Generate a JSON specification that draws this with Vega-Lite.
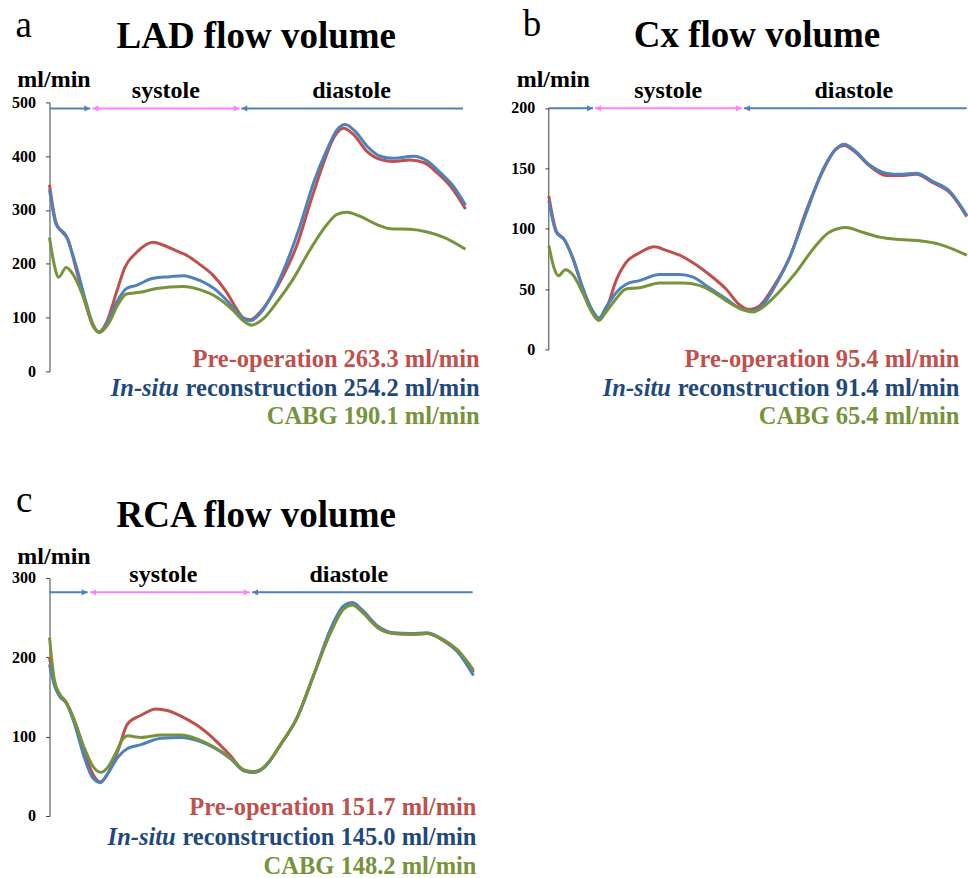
{
  "$schema": "https://vega.github.io/schema/vega-lite/v6.json",
  "background": "white",
  "padding": {"left": 11.5, "top": 5.4, "right": 0, "bottom": 0},
  "columns": 2,
  "bounds": "flush",
  "align": "all",
  "spacing": {"row": 206.6, "column": 75.3},
  "datasets": {
    "lad": [
      {"series":"Pre-operation","t":0,"flow":347},{"series":"Pre-operation","t":1.6,"flow":276},{"series":"Pre-operation","t":3.2,"flow":258},{"series":"Pre-operation","t":4.4,"flow":246},{"series":"Pre-operation","t":6.4,"flow":190},{"series":"Pre-operation","t":8.8,"flow":122},{"series":"Pre-operation","t":10.4,"flow":85},{"series":"Pre-operation","t":11.9,"flow":73},{"series":"Pre-operation","t":13.7,"flow":91},{"series":"Pre-operation","t":16.1,"flow":147},{"series":"Pre-operation","t":18.1,"flow":193},{"series":"Pre-operation","t":20.9,"flow":221},{"series":"Pre-operation","t":24.9,"flow":240},{"series":"Pre-operation","t":27.3,"flow":235},{"series":"Pre-operation","t":30.5,"flow":224},{"series":"Pre-operation","t":32.9,"flow":216},{"series":"Pre-operation","t":36.1,"flow":199},{"series":"Pre-operation","t":39.4,"flow":178},{"series":"Pre-operation","t":42.6,"flow":147},{"series":"Pre-operation","t":45.0,"flow":116},{"series":"Pre-operation","t":46.6,"flow":99},{"series":"Pre-operation","t":48.2,"flow":96},{"series":"Pre-operation","t":50.6,"flow":110},{"series":"Pre-operation","t":53.0,"flow":135},{"series":"Pre-operation","t":56.2,"flow":178},{"series":"Pre-operation","t":59.4,"flow":233},{"series":"Pre-operation","t":62.7,"flow":314},{"series":"Pre-operation","t":65.9,"flow":388},{"series":"Pre-operation","t":68.3,"flow":434},{"series":"Pre-operation","t":70.7,"flow":452},{"series":"Pre-operation","t":73.1,"flow":440},{"series":"Pre-operation","t":76.3,"flow":409},{"series":"Pre-operation","t":79.5,"flow":394},{"series":"Pre-operation","t":82.7,"flow":390},{"series":"Pre-operation","t":86.7,"flow":393},{"series":"Pre-operation","t":90.0,"flow":388},{"series":"Pre-operation","t":93.2,"flow":369},{"series":"Pre-operation","t":96.4,"flow":344},{"series":"Pre-operation","t":100,"flow":302},
      {"series":"In-situ reconstruction","t":0,"flow":338},{"series":"In-situ reconstruction","t":1.6,"flow":273},{"series":"In-situ reconstruction","t":4.0,"flow":252},{"series":"In-situ reconstruction","t":6.4,"flow":196},{"series":"In-situ reconstruction","t":8.8,"flow":128},{"series":"In-situ reconstruction","t":10.4,"flow":88},{"series":"In-situ reconstruction","t":11.9,"flow":73},{"series":"In-situ reconstruction","t":13.7,"flow":88},{"series":"In-situ reconstruction","t":16.1,"flow":128},{"series":"In-situ reconstruction","t":18.5,"flow":154},{"series":"In-situ reconstruction","t":20.9,"flow":160},{"series":"In-situ reconstruction","t":24.9,"flow":173},{"series":"In-situ reconstruction","t":28.9,"flow":176},{"series":"In-situ reconstruction","t":32.1,"flow":178},{"series":"In-situ reconstruction","t":36.1,"flow":169},{"series":"In-situ reconstruction","t":40.2,"flow":150},{"series":"In-situ reconstruction","t":43.4,"flow":125},{"series":"In-situ reconstruction","t":45.8,"flow":104},{"series":"In-situ reconstruction","t":48.2,"flow":94},{"series":"In-situ reconstruction","t":50.6,"flow":107},{"series":"In-situ reconstruction","t":53.8,"flow":147},{"series":"In-situ reconstruction","t":57.0,"flow":202},{"series":"In-situ reconstruction","t":60.2,"flow":270},{"series":"In-situ reconstruction","t":63.5,"flow":351},{"series":"In-situ reconstruction","t":66.7,"flow":412},{"series":"In-situ reconstruction","t":69.1,"flow":449},{"series":"In-situ reconstruction","t":71.1,"flow":459},{"series":"In-situ reconstruction","t":73.5,"flow":446},{"series":"In-situ reconstruction","t":76.3,"flow":419},{"series":"In-situ reconstruction","t":79.5,"flow":400},{"series":"In-situ reconstruction","t":82.7,"flow":396},{"series":"In-situ reconstruction","t":87.6,"flow":400},{"series":"In-situ reconstruction","t":90.8,"flow":391},{"series":"In-situ reconstruction","t":94.0,"flow":369},{"series":"In-situ reconstruction","t":97.2,"flow":343},{"series":"In-situ reconstruction","t":100,"flow":309},
      {"series":"CABG","t":0,"flow":249},{"series":"CABG","t":1.2,"flow":196},{"series":"CABG","t":2.2,"flow":175},{"series":"CABG","t":4.0,"flow":193},{"series":"CABG","t":5.6,"flow":181},{"series":"CABG","t":8.0,"flow":141},{"series":"CABG","t":10.4,"flow":88},{"series":"CABG","t":12.0,"flow":72},{"series":"CABG","t":14.1,"flow":88},{"series":"CABG","t":16.5,"flow":125},{"series":"CABG","t":18.5,"flow":144},{"series":"CABG","t":21.7,"flow":147},{"series":"CABG","t":25.7,"flow":154},{"series":"CABG","t":32.1,"flow":158},{"series":"CABG","t":36.1,"flow":152},{"series":"CABG","t":40.2,"flow":138},{"series":"CABG","t":44.2,"flow":113},{"series":"CABG","t":46.6,"flow":94},{"series":"CABG","t":48.6,"flow":86},{"series":"CABG","t":51.4,"flow":98},{"series":"CABG","t":54.6,"flow":128},{"series":"CABG","t":58.6,"flow":172},{"series":"CABG","t":62.7,"flow":227},{"series":"CABG","t":66.7,"flow":273},{"series":"CABG","t":69.1,"flow":292},{"series":"CABG","t":71.5,"flow":296},{"series":"CABG","t":74.7,"flow":288},{"series":"CABG","t":78.7,"flow":273},{"series":"CABG","t":81.9,"flow":265},{"series":"CABG","t":86.7,"flow":264},{"series":"CABG","t":90.8,"flow":259},{"series":"CABG","t":94.8,"flow":249},{"series":"CABG","t":100,"flow":227}
    ],
    "cx": [
      {"series":"Pre-operation","t":0,"flow":127},{"series":"Pre-operation","t":1.8,"flow":98},{"series":"Pre-operation","t":3.7,"flow":91},{"series":"Pre-operation","t":5.7,"flow":76},{"series":"Pre-operation","t":8.1,"flow":51},{"series":"Pre-operation","t":10.1,"flow":33},{"series":"Pre-operation","t":11.7,"flow":25},{"series":"Pre-operation","t":13.7,"flow":33},{"series":"Pre-operation","t":16.1,"flow":57},{"series":"Pre-operation","t":18.5,"flow":72},{"series":"Pre-operation","t":21.7,"flow":80},{"series":"Pre-operation","t":25.3,"flow":85},{"series":"Pre-operation","t":28.1,"flow":82},{"series":"Pre-operation","t":31.3,"flow":78},{"series":"Pre-operation","t":34.4,"flow":72},{"series":"Pre-operation","t":38.4,"flow":62},{"series":"Pre-operation","t":42.4,"flow":50},{"series":"Pre-operation","t":45.6,"flow":37},{"series":"Pre-operation","t":48.0,"flow":33},{"series":"Pre-operation","t":50.4,"flow":36},{"series":"Pre-operation","t":53.6,"flow":51},{"series":"Pre-operation","t":57.6,"flow":76},{"series":"Pre-operation","t":61.6,"flow":115},{"series":"Pre-operation","t":65.6,"flow":148},{"series":"Pre-operation","t":68.7,"flow":166},{"series":"Pre-operation","t":70.7,"flow":169},{"series":"Pre-operation","t":73.1,"flow":164},{"series":"Pre-operation","t":76.7,"flow":152},{"series":"Pre-operation","t":80.7,"flow":144},{"series":"Pre-operation","t":83.9,"flow":144},{"series":"Pre-operation","t":87.9,"flow":145},{"series":"Pre-operation","t":91.9,"flow":138},{"series":"Pre-operation","t":95.9,"flow":130},{"series":"Pre-operation","t":100,"flow":110},
      {"series":"In-situ reconstruction","t":0,"flow":123},{"series":"In-situ reconstruction","t":1.8,"flow":97},{"series":"In-situ reconstruction","t":3.7,"flow":91},{"series":"In-situ reconstruction","t":5.7,"flow":76},{"series":"In-situ reconstruction","t":8.1,"flow":51},{"series":"In-situ reconstruction","t":10.5,"flow":32},{"series":"In-situ reconstruction","t":12.0,"flow":26},{"series":"In-situ reconstruction","t":13.7,"flow":35},{"series":"In-situ reconstruction","t":16.1,"flow":47},{"series":"In-situ reconstruction","t":18.5,"flow":54},{"series":"In-situ reconstruction","t":21.7,"flow":57},{"series":"In-situ reconstruction","t":26.5,"flow":62},{"series":"In-situ reconstruction","t":31.3,"flow":62},{"series":"In-situ reconstruction","t":34.4,"flow":60},{"series":"In-situ reconstruction","t":38.4,"flow":51},{"series":"In-situ reconstruction","t":42.4,"flow":42},{"series":"In-situ reconstruction","t":46.4,"flow":33},{"series":"In-situ reconstruction","t":48.8,"flow":32},{"series":"In-situ reconstruction","t":51.2,"flow":37},{"series":"In-situ reconstruction","t":54.4,"flow":54},{"series":"In-situ reconstruction","t":57.6,"flow":76},{"series":"In-situ reconstruction","t":61.6,"flow":113},{"series":"In-situ reconstruction","t":65.6,"flow":149},{"series":"In-situ reconstruction","t":68.7,"flow":166},{"series":"In-situ reconstruction","t":70.7,"flow":170},{"series":"In-situ reconstruction","t":73.1,"flow":165},{"series":"In-situ reconstruction","t":76.7,"flow":153},{"series":"In-situ reconstruction","t":80.7,"flow":146},{"series":"In-situ reconstruction","t":83.9,"flow":145},{"series":"In-situ reconstruction","t":87.9,"flow":146},{"series":"In-situ reconstruction","t":91.9,"flow":139},{"series":"In-situ reconstruction","t":95.9,"flow":131},{"series":"In-situ reconstruction","t":100,"flow":111},
      {"series":"CABG","t":0,"flow":86},{"series":"CABG","t":1.4,"flow":66},{"series":"CABG","t":2.3,"flow":61},{"series":"CABG","t":4.0,"flow":66},{"series":"CABG","t":5.7,"flow":62},{"series":"CABG","t":8.1,"flow":47},{"series":"CABG","t":10.1,"flow":32},{"series":"CABG","t":12.0,"flow":24},{"series":"CABG","t":13.7,"flow":31},{"series":"CABG","t":16.1,"flow":42},{"series":"CABG","t":18.5,"flow":50},{"series":"CABG","t":21.7,"flow":51},{"series":"CABG","t":26.5,"flow":55},{"series":"CABG","t":32.1,"flow":55},{"series":"CABG","t":36.0,"flow":53},{"series":"CABG","t":40.0,"flow":46},{"series":"CABG","t":44.0,"flow":37},{"series":"CABG","t":47.2,"flow":32},{"series":"CABG","t":48.8,"flow":31},{"series":"CABG","t":51.2,"flow":35},{"series":"CABG","t":55.2,"flow":48},{"series":"CABG","t":59.2,"flow":64},{"series":"CABG","t":63.2,"flow":83},{"series":"CABG","t":67.1,"flow":97},{"series":"CABG","t":71.1,"flow":101},{"series":"CABG","t":75.1,"flow":97},{"series":"CABG","t":79.1,"flow":93},{"series":"CABG","t":83.9,"flow":91},{"series":"CABG","t":88.7,"flow":90},{"series":"CABG","t":93.5,"flow":87},{"series":"CABG","t":100,"flow":78}
    ],
    "rca": [
      {"series":"Pre-operation","t":0,"flow":200},{"series":"Pre-operation","t":1.2,"flow":166},{"series":"Pre-operation","t":2.4,"flow":151},{"series":"Pre-operation","t":3.9,"flow":143},{"series":"Pre-operation","t":5.9,"flow":120},{"series":"Pre-operation","t":8.2,"flow":82},{"series":"Pre-operation","t":10.2,"flow":53},{"series":"Pre-operation","t":12.0,"flow":43},{"series":"Pre-operation","t":13.7,"flow":53},{"series":"Pre-operation","t":16.1,"flow":82},{"series":"Pre-operation","t":18.4,"flow":116},{"series":"Pre-operation","t":21.6,"flow":127},{"series":"Pre-operation","t":25.1,"flow":135},{"series":"Pre-operation","t":27.8,"flow":133},{"series":"Pre-operation","t":31.0,"flow":126},{"series":"Pre-operation","t":34.9,"flow":114},{"series":"Pre-operation","t":38.8,"flow":97},{"series":"Pre-operation","t":42.7,"flow":76},{"series":"Pre-operation","t":45.9,"flow":57},{"series":"Pre-operation","t":48.2,"flow":55},{"series":"Pre-operation","t":50.6,"flow":61},{"series":"Pre-operation","t":54.5,"flow":90},{"series":"Pre-operation","t":58.4,"flow":124},{"series":"Pre-operation","t":62.4,"flow":179},{"series":"Pre-operation","t":66.3,"flow":233},{"series":"Pre-operation","t":69.4,"flow":263},{"series":"Pre-operation","t":71.4,"flow":268},{"series":"Pre-operation","t":73.7,"flow":259},{"series":"Pre-operation","t":77.3,"flow":238},{"series":"Pre-operation","t":81.2,"flow":230},{"series":"Pre-operation","t":85.1,"flow":229},{"series":"Pre-operation","t":89.0,"flow":230},{"series":"Pre-operation","t":92.9,"flow":221},{"series":"Pre-operation","t":96.1,"flow":208},{"series":"Pre-operation","t":100,"flow":181},
      {"series":"In-situ reconstruction","t":0,"flow":191},{"series":"In-situ reconstruction","t":1.2,"flow":164},{"series":"In-situ reconstruction","t":2.4,"flow":151},{"series":"In-situ reconstruction","t":3.9,"flow":143},{"series":"In-situ reconstruction","t":5.9,"flow":116},{"series":"In-situ reconstruction","t":8.2,"flow":74},{"series":"In-situ reconstruction","t":10.2,"flow":48},{"series":"In-situ reconstruction","t":12.0,"flow":42},{"series":"In-situ reconstruction","t":13.7,"flow":53},{"series":"In-situ reconstruction","t":16.1,"flow":74},{"series":"In-situ reconstruction","t":18.4,"flow":85},{"series":"In-situ reconstruction","t":21.6,"flow":90},{"series":"In-situ reconstruction","t":26.3,"flow":98},{"series":"In-situ reconstruction","t":31.0,"flow":99},{"series":"In-situ reconstruction","t":34.9,"flow":95},{"series":"In-situ reconstruction","t":38.8,"flow":86},{"series":"In-situ reconstruction","t":42.7,"flow":72},{"series":"In-situ reconstruction","t":45.9,"flow":57},{"series":"In-situ reconstruction","t":48.2,"flow":55},{"series":"In-situ reconstruction","t":50.6,"flow":61},{"series":"In-situ reconstruction","t":54.5,"flow":90},{"series":"In-situ reconstruction","t":58.4,"flow":124},{"series":"In-situ reconstruction","t":62.4,"flow":179},{"series":"In-situ reconstruction","t":66.3,"flow":236},{"series":"In-situ reconstruction","t":69.4,"flow":265},{"series":"In-situ reconstruction","t":71.4,"flow":269},{"series":"In-situ reconstruction","t":73.7,"flow":260},{"series":"In-situ reconstruction","t":77.3,"flow":240},{"series":"In-situ reconstruction","t":81.2,"flow":231},{"series":"In-situ reconstruction","t":85.1,"flow":230},{"series":"In-situ reconstruction","t":89.0,"flow":231},{"series":"In-situ reconstruction","t":92.9,"flow":222},{"series":"In-situ reconstruction","t":96.1,"flow":208},{"series":"In-situ reconstruction","t":100,"flow":177},
      {"series":"CABG","t":0,"flow":225},{"series":"CABG","t":1.2,"flow":170},{"series":"CABG","t":2.4,"flow":154},{"series":"CABG","t":3.9,"flow":144},{"series":"CABG","t":5.9,"flow":120},{"series":"CABG","t":8.2,"flow":86},{"series":"CABG","t":10.2,"flow":63},{"series":"CABG","t":12.0,"flow":55},{"series":"CABG","t":13.7,"flow":61},{"series":"CABG","t":15.7,"flow":80},{"series":"CABG","t":17.3,"flow":97},{"series":"CABG","t":18.4,"flow":101},{"series":"CABG","t":21.6,"flow":99},{"series":"CABG","t":26.3,"flow":102},{"series":"CABG","t":31.0,"flow":102},{"series":"CABG","t":34.9,"flow":97},{"series":"CABG","t":38.8,"flow":87},{"series":"CABG","t":42.7,"flow":73},{"series":"CABG","t":45.9,"flow":58},{"series":"CABG","t":48.2,"flow":56},{"series":"CABG","t":50.6,"flow":62},{"series":"CABG","t":54.5,"flow":90},{"series":"CABG","t":58.4,"flow":124},{"series":"CABG","t":62.4,"flow":179},{"series":"CABG","t":66.3,"flow":231},{"series":"CABG","t":69.4,"flow":261},{"series":"CABG","t":71.4,"flow":266},{"series":"CABG","t":73.7,"flow":257},{"series":"CABG","t":77.3,"flow":238},{"series":"CABG","t":81.2,"flow":230},{"series":"CABG","t":85.1,"flow":229},{"series":"CABG","t":89.0,"flow":230},{"series":"CABG","t":92.9,"flow":222},{"series":"CABG","t":96.1,"flow":210},{"series":"CABG","t":100,"flow":184}
    ],
    "lad_phase": [
      {"phase":"end-diastole","t0":0,"t1":9.8},{"phase":"systole","t0":10.3,"t1":45.7},{"phase":"diastole","t0":46.1,"t1":99.4}
    ],
    "lad_head": [
      {"phase":"end-diastole","dir":"right","t":9.03},{"phase":"systole","dir":"left","t":11.07},{"phase":"systole","dir":"right","t":44.93},{"phase":"diastole","dir":"left","t":46.87}
    ],
    "cx_phase": [
      {"phase":"end-diastole","t0":0,"t1":10.6},{"phase":"systole","t0":11.1,"t1":46.2},{"phase":"diastole","t0":46.7,"t1":100}
    ],
    "cx_head": [
      {"phase":"end-diastole","dir":"right","t":9.83},{"phase":"systole","dir":"left","t":11.87},{"phase":"systole","dir":"right","t":45.43},{"phase":"diastole","dir":"left","t":47.47}
    ],
    "rca_phase": [
      {"phase":"end-diastole","t0":0,"t1":9.0},{"phase":"systole","t0":9.6,"t1":47.2},{"phase":"diastole","t0":47.8,"t1":99.8}
    ],
    "rca_head": [
      {"phase":"end-diastole","dir":"right","t":8.25},{"phase":"systole","dir":"left","t":10.35},{"phase":"systole","dir":"right","t":46.45},{"phase":"diastole","dir":"left","t":48.55}
    ]
  },
  "concat": [
    {
      "width": 416,
      "height": 269,
      "layer": [
        {
          "data": {"name": "lad"},
          "mark": {"type": "line", "interpolate": "monotone", "strokeWidth": 3},
          "encoding": {
            "x": {"field": "t", "type": "quantitative", "scale": {"domain": [0, 100], "nice": false}, "axis": null},
            "y": {"field": "flow", "type": "quantitative", "scale": {"domain": [0, 500], "nice": false}, "axis": {"values": [0, 100, 200, 300, 400, 500], "title": null}},
            "color": {"field": "series", "type": "nominal", "scale": {"domain": ["Pre-operation", "In-situ reconstruction", "CABG"], "range": ["#C0504D", "#4F81BD", "#77933C"]}, "legend": null}
          }
        },
        {
          "data": {"name": "lad_phase"},
          "mark": {"type": "rule", "strokeWidth": 2},
          "encoding": {
            "x": {"field": "t0", "type": "quantitative", "axis": null},
            "x2": {"field": "t1"},
            "y": {"datum": 488.8, "axis": {"title": null}},
            "stroke": {"field": "phase", "type": "nominal", "scale": {"domain": ["end-diastole", "systole", "diastole"], "range": ["#4F81BD", "#FF80FF", "#4F81BD"]}, "legend": null}
          }
        },
        {
          "data": {"name": "lad_head"},
          "mark": {"type": "point", "filled": true, "size": 40, "opacity": 1},
          "encoding": {
            "x": {"field": "t", "type": "quantitative", "axis": null},
            "y": {"datum": 488.8, "axis": {"title": null}},
            "shape": {"field": "dir", "type": "nominal", "scale": {"domain": ["right", "left"], "range": ["triangle-right", "triangle-left"]}, "legend": null},
            "fill": {"field": "phase", "type": "nominal", "scale": {"domain": ["end-diastole", "systole", "diastole"], "range": ["#4F81BD", "#FF80FF", "#4F81BD"]}, "legend": null}
          }
        },
        {"data": {"values": [{}]}, "mark": {"type": "text", "text": "a", "fontSize": 37, "fontWeight": "normal", "align": "center", "baseline": "alphabetic"}, "encoding": {"x": {"datum": -6.18, "axis": null}, "y": {"datum": 620.8, "axis": {"title": null}}}},
        {"data": {"values": [{}]}, "mark": {"type": "text", "text": "LAD flow volume", "fontSize": 37, "align": "center", "baseline": "alphabetic"}, "encoding": {"x": {"datum": 49.7, "axis": null}, "y": {"datum": 600.4, "axis": {"title": null}}}},
        {"data": {"values": [{}]}, "mark": {"type": "text", "text": "ml/min", "align": "center", "baseline": "alphabetic"}, "encoding": {"x": {"datum": 1.08, "axis": null}, "y": {"datum": 529.2, "axis": {"title": null}}}},
        {"data": {"values": [{}]}, "mark": {"type": "text", "text": "systole", "align": "center", "baseline": "alphabetic"}, "encoding": {"x": {"datum": 27.96, "axis": null}, "y": {"datum": 508.7, "axis": {"title": null}}}},
        {"data": {"values": [{}]}, "mark": {"type": "text", "text": "diastole", "align": "center", "baseline": "alphabetic"}, "encoding": {"x": {"datum": 72.6, "axis": null}, "y": {"datum": 508.7, "axis": {"title": null}}}},
        {"data": {"values": [{}]}, "mark": {"type": "text", "text": "Pre-operation 263.3 ml/min", "fontSize": 24.5, "color": "#C0504D", "align": "right", "baseline": "alphabetic"}, "encoding": {"x": {"datum": 103.4, "axis": null}, "y": {"datum": 8.7, "axis": {"title": null}}}},
        {"data": {"values": [{}]}, "mark": {"type": "text", "text": "reconstruction 254.2 ml/min", "fontSize": 24.5, "color": "#1F497D", "align": "right", "baseline": "alphabetic"}, "encoding": {"x": {"datum": 103.4, "axis": null}, "y": {"datum": -45.2, "axis": {"title": null}}}},
        {"data": {"values": [{}]}, "mark": {"type": "text", "text": "In-situ", "fontSize": 24.5, "fontStyle": "italic", "color": "#1F497D", "align": "right", "baseline": "alphabetic", "dx": -300.8}, "encoding": {"x": {"datum": 103.4, "axis": null}, "y": {"datum": -45.2, "axis": {"title": null}}}},
        {"data": {"values": [{}]}, "mark": {"type": "text", "text": "CABG 190.1 ml/min", "fontSize": 24.5, "color": "#77933C", "align": "right", "baseline": "alphabetic"}, "encoding": {"x": {"datum": 103.4, "axis": null}, "y": {"datum": -97.2, "axis": {"title": null}}}}
      ]
    },
    {
      "width": 418,
      "height": 247,
      "layer": [
        {
          "data": {"values": [{}]},
          "mark": {"type": "rule", "color": "#404040", "strokeWidth": 1},
          "encoding": {"x": {"datum": 0, "axis": null}, "y": {"datum": 0, "axis": {"title": null}}, "y2": {"datum": 200}}
        },
        {
          "data": {"name": "cx"},
          "mark": {"type": "line", "interpolate": "monotone", "strokeWidth": 3},
          "encoding": {
            "x": {"field": "t", "type": "quantitative", "scale": {"domain": [0, 100], "nice": false}, "axis": null},
            "y": {"field": "flow", "type": "quantitative", "scale": {"domain": [0, 204.6], "nice": false}, "axis": {"values": [0, 50, 100, 150, 200], "title": null, "domain": false}},
            "color": {"field": "series", "type": "nominal", "scale": {"domain": ["Pre-operation", "In-situ reconstruction", "CABG"], "range": ["#C0504D", "#4F81BD", "#77933C"]}, "legend": null}
          }
        },
        {
          "data": {"name": "cx_phase"},
          "mark": {"type": "rule", "strokeWidth": 2},
          "encoding": {
            "x": {"field": "t0", "type": "quantitative", "axis": null},
            "x2": {"field": "t1"},
            "y": {"datum": 199.7, "axis": {"title": null}},
            "stroke": {"field": "phase", "type": "nominal", "scale": {"domain": ["end-diastole", "systole", "diastole"], "range": ["#4F81BD", "#FF80FF", "#4F81BD"]}, "legend": null}
          }
        },
        {
          "data": {"name": "cx_head"},
          "mark": {"type": "point", "filled": true, "size": 40, "opacity": 1},
          "encoding": {
            "x": {"field": "t", "type": "quantitative", "axis": null},
            "y": {"datum": 199.7, "axis": {"title": null}},
            "shape": {"field": "dir", "type": "nominal", "scale": {"domain": ["right", "left"], "range": ["triangle-right", "triangle-left"]}, "legend": null},
            "fill": {"field": "phase", "type": "nominal", "scale": {"domain": ["end-diastole", "systole", "diastole"], "range": ["#4F81BD", "#FF80FF", "#4F81BD"]}, "legend": null}
          }
        },
        {"data": {"values": [{}]}, "mark": {"type": "text", "text": "b", "fontSize": 37, "fontWeight": "normal", "align": "center", "baseline": "alphabetic"}, "encoding": {"x": {"datum": -4.02, "axis": null}, "y": {"datum": 259.9, "axis": {"title": null}}}},
        {"data": {"values": [{}]}, "mark": {"type": "text", "text": "Cx flow volume", "fontSize": 37, "align": "center", "baseline": "alphabetic"}, "encoding": {"x": {"datum": 49.8, "axis": null}, "y": {"datum": 250.2, "axis": {"title": null}}}},
        {"data": {"values": [{}]}, "mark": {"type": "text", "text": "ml/min", "align": "center", "baseline": "alphabetic"}, "encoding": {"x": {"datum": 1.08, "axis": null}, "y": {"datum": 217.6, "axis": {"title": null}}}},
        {"data": {"values": [{}]}, "mark": {"type": "text", "text": "systole", "align": "center", "baseline": "alphabetic"}, "encoding": {"x": {"datum": 28.56, "axis": null}, "y": {"datum": 208.5, "axis": {"title": null}}}},
        {"data": {"values": [{}]}, "mark": {"type": "text", "text": "diastole", "align": "center", "baseline": "alphabetic"}, "encoding": {"x": {"datum": 72.97, "axis": null}, "y": {"datum": 208.5, "axis": {"title": null}}}},
        {"data": {"values": [{}]}, "mark": {"type": "text", "text": "Pre-operation 95.4 ml/min", "fontSize": 24.5, "color": "#C0504D", "align": "right", "baseline": "alphabetic"}, "encoding": {"x": {"datum": 98.25, "axis": null}, "y": {"datum": -14.3, "axis": {"title": null}}}},
        {"data": {"values": [{}]}, "mark": {"type": "text", "text": "reconstruction 91.4 ml/min", "fontSize": 24.5, "color": "#1F497D", "align": "right", "baseline": "alphabetic"}, "encoding": {"x": {"datum": 98.25, "axis": null}, "y": {"datum": -38.4, "axis": {"title": null}}}},
        {"data": {"values": [{}]}, "mark": {"type": "text", "text": "In-situ", "fontSize": 24.5, "fontStyle": "italic", "color": "#1F497D", "align": "right", "baseline": "alphabetic", "dx": -288.6}, "encoding": {"x": {"datum": 98.25, "axis": null}, "y": {"datum": -38.4, "axis": {"title": null}}}},
        {"data": {"values": [{}]}, "mark": {"type": "text", "text": "CABG 65.4 ml/min", "fontSize": 24.5, "color": "#77933C", "align": "right", "baseline": "alphabetic"}, "encoding": {"x": {"datum": 98.25, "axis": null}, "y": {"datum": -61.5, "axis": {"title": null}}}}
      ]
    },
    {
      "width": 424,
      "height": 238,
      "layer": [
        {
          "data": {"name": "rca"},
          "mark": {"type": "line", "interpolate": "monotone", "strokeWidth": 3},
          "encoding": {
            "x": {"field": "t", "type": "quantitative", "scale": {"domain": [0, 100], "nice": false}, "axis": null},
            "y": {"field": "flow", "type": "quantitative", "scale": {"domain": [0, 300], "nice": false}, "axis": {"values": [0, 100, 200, 300], "title": null}},
            "color": {"field": "series", "type": "nominal", "scale": {"domain": ["Pre-operation", "In-situ reconstruction", "CABG"], "range": ["#C0504D", "#4F81BD", "#77933C"]}, "legend": null}
          }
        },
        {
          "data": {"name": "rca_phase"},
          "mark": {"type": "rule", "strokeWidth": 2},
          "encoding": {
            "x": {"field": "t0", "type": "quantitative", "axis": null},
            "x2": {"field": "t1"},
            "y": {"datum": 281.9, "axis": {"title": null}},
            "stroke": {"field": "phase", "type": "nominal", "scale": {"domain": ["end-diastole", "systole", "diastole"], "range": ["#4F81BD", "#FF80FF", "#4F81BD"]}, "legend": null}
          }
        },
        {
          "data": {"name": "rca_head"},
          "mark": {"type": "point", "filled": true, "size": 40, "opacity": 1},
          "encoding": {
            "x": {"field": "t", "type": "quantitative", "axis": null},
            "y": {"datum": 281.9, "axis": {"title": null}},
            "shape": {"field": "dir", "type": "nominal", "scale": {"domain": ["right", "left"], "range": ["triangle-right", "triangle-left"]}, "legend": null},
            "fill": {"field": "phase", "type": "nominal", "scale": {"domain": ["end-diastole", "systole", "diastole"], "range": ["#4F81BD", "#FF80FF", "#4F81BD"]}, "legend": null}
          }
        },
        {"data": {"values": [{}]}, "mark": {"type": "text", "text": "c", "fontSize": 37, "fontWeight": "normal", "align": "center", "baseline": "alphabetic"}, "encoding": {"x": {"datum": -5.97, "axis": null}, "y": {"datum": 382.7, "axis": {"title": null}}}},
        {"data": {"values": [{}]}, "mark": {"type": "text", "text": "RCA flow volume", "fontSize": 37, "align": "center", "baseline": "alphabetic"}, "encoding": {"x": {"datum": 48.75, "axis": null}, "y": {"datum": 363.8, "axis": {"title": null}}}},
        {"data": {"values": [{}]}, "mark": {"type": "text", "text": "ml/min", "align": "center", "baseline": "alphabetic"}, "encoding": {"x": {"datum": 1.06, "axis": null}, "y": {"datum": 317.7, "axis": {"title": null}}}},
        {"data": {"values": [{}]}, "mark": {"type": "text", "text": "systole", "align": "center", "baseline": "alphabetic"}, "encoding": {"x": {"datum": 26.84, "axis": null}, "y": {"datum": 294.5, "axis": {"title": null}}}},
        {"data": {"values": [{}]}, "mark": {"type": "text", "text": "diastole", "align": "center", "baseline": "alphabetic"}, "encoding": {"x": {"datum": 70.6, "axis": null}, "y": {"datum": 294.5, "axis": {"title": null}}}},
        {"data": {"values": [{}]}, "mark": {"type": "text", "text": "Pre-operation 151.7 ml/min", "fontSize": 24.5, "color": "#C0504D", "align": "right", "baseline": "alphabetic"}, "encoding": {"x": {"datum": 100.7, "axis": null}, "y": {"datum": 1.3, "axis": {"title": null}}}},
        {"data": {"values": [{}]}, "mark": {"type": "text", "text": "reconstruction 145.0 ml/min", "fontSize": 24.5, "color": "#1F497D", "align": "right", "baseline": "alphabetic"}, "encoding": {"x": {"datum": 100.7, "axis": null}, "y": {"datum": -36.2, "axis": {"title": null}}}},
        {"data": {"values": [{}]}, "mark": {"type": "text", "text": "In-situ", "fontSize": 24.5, "fontStyle": "italic", "color": "#1F497D", "align": "right", "baseline": "alphabetic", "dx": -300.8}, "encoding": {"x": {"datum": 100.7, "axis": null}, "y": {"datum": -36.2, "axis": {"title": null}}}},
        {"data": {"values": [{}]}, "mark": {"type": "text", "text": "CABG 148.2 ml/min", "fontSize": 24.5, "color": "#77933C", "align": "right", "baseline": "alphabetic"}, "encoding": {"x": {"datum": 100.7, "axis": null}, "y": {"datum": -73.1, "axis": {"title": null}}}}
      ]
    }
  ],
  "config": {
    "view": {"stroke": null},
    "font": "Liberation Serif",
    "axisY": {"grid": false, "labelFont": "Liberation Serif", "labelFontWeight": "bold", "labelFontSize": 16, "labelColor": "#000000", "tickSize": 4, "labelPadding": 10, "domainColor": "#404040", "tickColor": "#404040"},
    "text": {"font": "Liberation Serif", "fontWeight": "bold", "fontSize": 24, "color": "#000000"}
  }
}
